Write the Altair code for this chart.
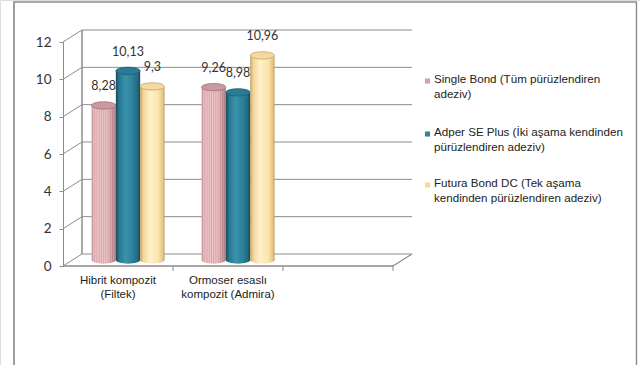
import altair as alt
import pandas as pd

# ---- data ----
categories = ["Hibrit kompozit\n(Filtek)", "Ormoser esaslı\nkompozit (Admira)"]
empty_slot = " "
series = [
    "Single Bond (Tüm pürüzlendiren\nadeziv)",
    "Adper SE Plus (İki aşama kendinden\npürüzlendiren adeziv)",
    "Futura Bond DC (Tek aşama\nkendinden pürüzlendiren adeziv)",
]
values_single = [8.28, 9.26]
values_adper = [10.13, 8.98]
values_futura = [9.3, 10.96]
y_ticks = [0, 2, 4, 6, 8, 10, 12]

all_values = [values_single, values_adper, values_futura]
rows = []
for s, vals in zip(series, all_values):
    for c, v in zip(categories, vals):
        rows.append({"cat": c, "series": s, "value": v,
                     "label": ("%g" % v).replace(".", ",")})
df = pd.DataFrame(rows)
ticks_df = pd.DataFrame({"tick": y_ticks})
cat_df = pd.DataFrame({"cat": categories})
slot_df = pd.DataFrame({"cat": categories + [empty_slot]})

# ---- styling ----
GRID = "#8c8c8c"
FONT_NUM = "Lato"
FONT_TXT = "Liberation Sans"
DEPTH_X, DEPTH_Y = 19, -12

x_scale = alt.Scale(domain=categories + [empty_slot], range=[73, 403],
                    paddingInner=0, paddingOuter=0)
xo_scale = alt.Scale(domain=series, paddingInner=0, paddingOuter=0.76)
y_scale = alt.Scale(domain=[0, 12], range=[266, 42], nice=False, zero=True)


def lin(stops):
    return {"gradient": "linear", "x1": 0, "y1": 0, "x2": 1, "y2": 0,
            "stops": [{"offset": o, "color": c} for o, c in stops]}


def mix(c1, c2, t):
    a = [int(c1[i:i + 2], 16) for i in (1, 3, 5)]
    b = [int(c2[i:i + 2], 16) for i in (1, 3, 5)]
    return "#%02x%02x%02x" % tuple(round(a[i] + (b[i] - a[i]) * t) for i in range(3))


def pink_grad():
    stops = []
    n = 22
    for k in range(n + 1):
        t = k / n
        base = "#f0c9ca" if k % 2 == 0 else "#d6a5a9"
        edge = abs(t - 0.4) / 0.6
        shade = mix(base, "#8e5a60", max(0.0, edge - 0.45) * 1.1)
        stops.append((t, shade))
    return lin(stops)


grads = [
    pink_grad(),
    lin([(0, "#174a5b"), (0.14, "#2a7891"), (0.4, "#3893ad"), (0.7, "#2c7f98"),
         (0.9, "#216a80"), (1, "#164556")]),
    lin([(0, "#c4a062"), (0.12, "#f0d497"), (0.4, "#fff1ca"), (0.75, "#fbe3aa"),
         (0.92, "#e6c688"), (1, "#bf9c60")]),
]
top_fill = ["#c99a9e", "#2a7c95", "#f2d9a2"]
top_stroke = ["#a3707a", "#1d5d71", "#c8a566"]
legend_colors = ["#d6a0a5", "#31849b", "#f9d891"]

ELL = "M-1,0A1,0.3,0,1,1,1,0A1,0.3,0,1,1,-1,0Z"
BAR_W = 110 / (3 + 2 * 0.76)
ELL_SIZE = BAR_W ** 2

layers = []

# frame
layers.append(alt.Chart(cat_df).mark_rect(fillOpacity=0, stroke="#8a8a8a", strokeWidth=1.2).encode(
    x=alt.value(14), x2=alt.value(636.5), y=alt.value(2), y2=alt.value(400)))

# back wall gridlines
layers.append(alt.Chart(ticks_df).mark_rule(color=GRID, strokeWidth=1, yOffset=DEPTH_Y).encode(
    x=alt.value(63 + DEPTH_X), x2=alt.value(393 + DEPTH_X),
    y=alt.Y("tick:Q", scale=y_scale, axis=alt.Axis(
        values=y_ticks, offset=-63, domainColor=GRID, tickColor=GRID, tickSize=4,
        labelPadding=8, labelFont=FONT_NUM, labelFontSize=13.5, labelColor="#333333",
        title=None, grid=False, domainWidth=1))))
# diagonal connectors on the side wall
layers.append(alt.Chart(ticks_df).mark_rule(color=GRID, strokeWidth=1, y2Offset=DEPTH_Y).encode(
    x=alt.value(63), x2=alt.value(63 + DEPTH_X),
    y=alt.Y("tick:Q", scale=y_scale), y2="tick:Q"))
# back wall left edge
layers.append(alt.Chart(cat_df).mark_rule(color=GRID, strokeWidth=1, yOffset=DEPTH_Y, y2Offset=DEPTH_Y).encode(
    x=alt.value(63 + DEPTH_X), y=alt.datum(0, scale=y_scale), y2=alt.datum(12)))
# floor front edge
layers.append(alt.Chart(cat_df).mark_rule(color=GRID, strokeWidth=1).encode(
    x=alt.value(63), x2=alt.value(393), y=alt.datum(0, scale=y_scale)))
# floor right diagonal
layers.append(alt.Chart(cat_df).mark_rule(color=GRID, strokeWidth=1, y2Offset=DEPTH_Y).encode(
    x=alt.value(393), x2=alt.value(393 + DEPTH_X), y=alt.datum(0, scale=y_scale), y2=alt.datum(0)))
# category ticks
layers.append(alt.Chart(slot_df).mark_rule(color=GRID, strokeWidth=1, xOffset=-10).encode(
    x=alt.X("cat:N", scale=x_scale, bandPosition=1, axis=None),
    y=alt.datum(0, scale=y_scale), y2=alt.value(271)))

# cylinders
for i, s in enumerate(series):
    sub = alt.Chart(df).transform_filter(alt.datum.series == s)
    enc = dict(x=alt.X("cat:N", scale=x_scale, axis=None),
               xOffset=alt.XOffset("series:N", scale=xo_scale))
    layers.append(sub.mark_point(shape=ELL, size=ELL_SIZE, filled=True, fill=grads[i],
                                 strokeWidth=0, opacity=1, yOffset=-6).encode(
        y=alt.datum(0, scale=y_scale), **enc))
    layers.append(sub.mark_bar(fill=grads[i], strokeWidth=0, yOffset=-6, y2Offset=-6).encode(
        y=alt.Y("value:Q", scale=y_scale), **enc))
    layers.append(sub.mark_point(shape=ELL, size=ELL_SIZE, filled=True, fill=top_fill[i],
                                 stroke=top_stroke[i], strokeWidth=0.8, opacity=1, yOffset=-6).encode(
        y=alt.Y("value:Q", scale=y_scale), **enc))

# data labels
layers.append(alt.Chart(df).mark_text(font=FONT_NUM, fontSize=12.5, color="#333333", yOffset=-25).encode(
    x=alt.X("cat:N", scale=x_scale, axis=None),
    xOffset=alt.XOffset("series:N", scale=xo_scale),
    y=alt.Y("value:Q", scale=y_scale), text="label:N"))

# category labels
layers.append(alt.Chart(cat_df).mark_text(font=FONT_TXT, fontSize=11.5, color="#222222",
                                          lineBreak="\n", baseline="top", lineHeight=13.5,
                                          xOffset=-10).encode(
    x=alt.X("cat:N", scale=x_scale, axis=None), y=alt.value(275), text="cat:N"))

# legend
leg_y = [81, 134, 185]
for i, s in enumerate(series):
    ldf = pd.DataFrame({"series": [s]})
    layers.append(alt.Chart(ldf).mark_square(size=26, color=legend_colors[i], opacity=1).encode(
        x=alt.value(427.5), y=alt.value(leg_y[i])))
    layers.append(alt.Chart(ldf).mark_text(font=FONT_TXT, fontSize=11.6, color="#222222", align="left",
                                           baseline="top", lineBreak="\n", lineHeight=15).encode(
        x=alt.value(434), y=alt.value(leg_y[i] - 7), text="series:N"))

chart = alt.layer(*layers).properties(
    width=640, height=365, padding=0, autosize="none"
).configure_view(stroke=None, fill="white").configure(background="white")

chart.save("out.html", embed_options={"renderer": "svg", "actions": False})
